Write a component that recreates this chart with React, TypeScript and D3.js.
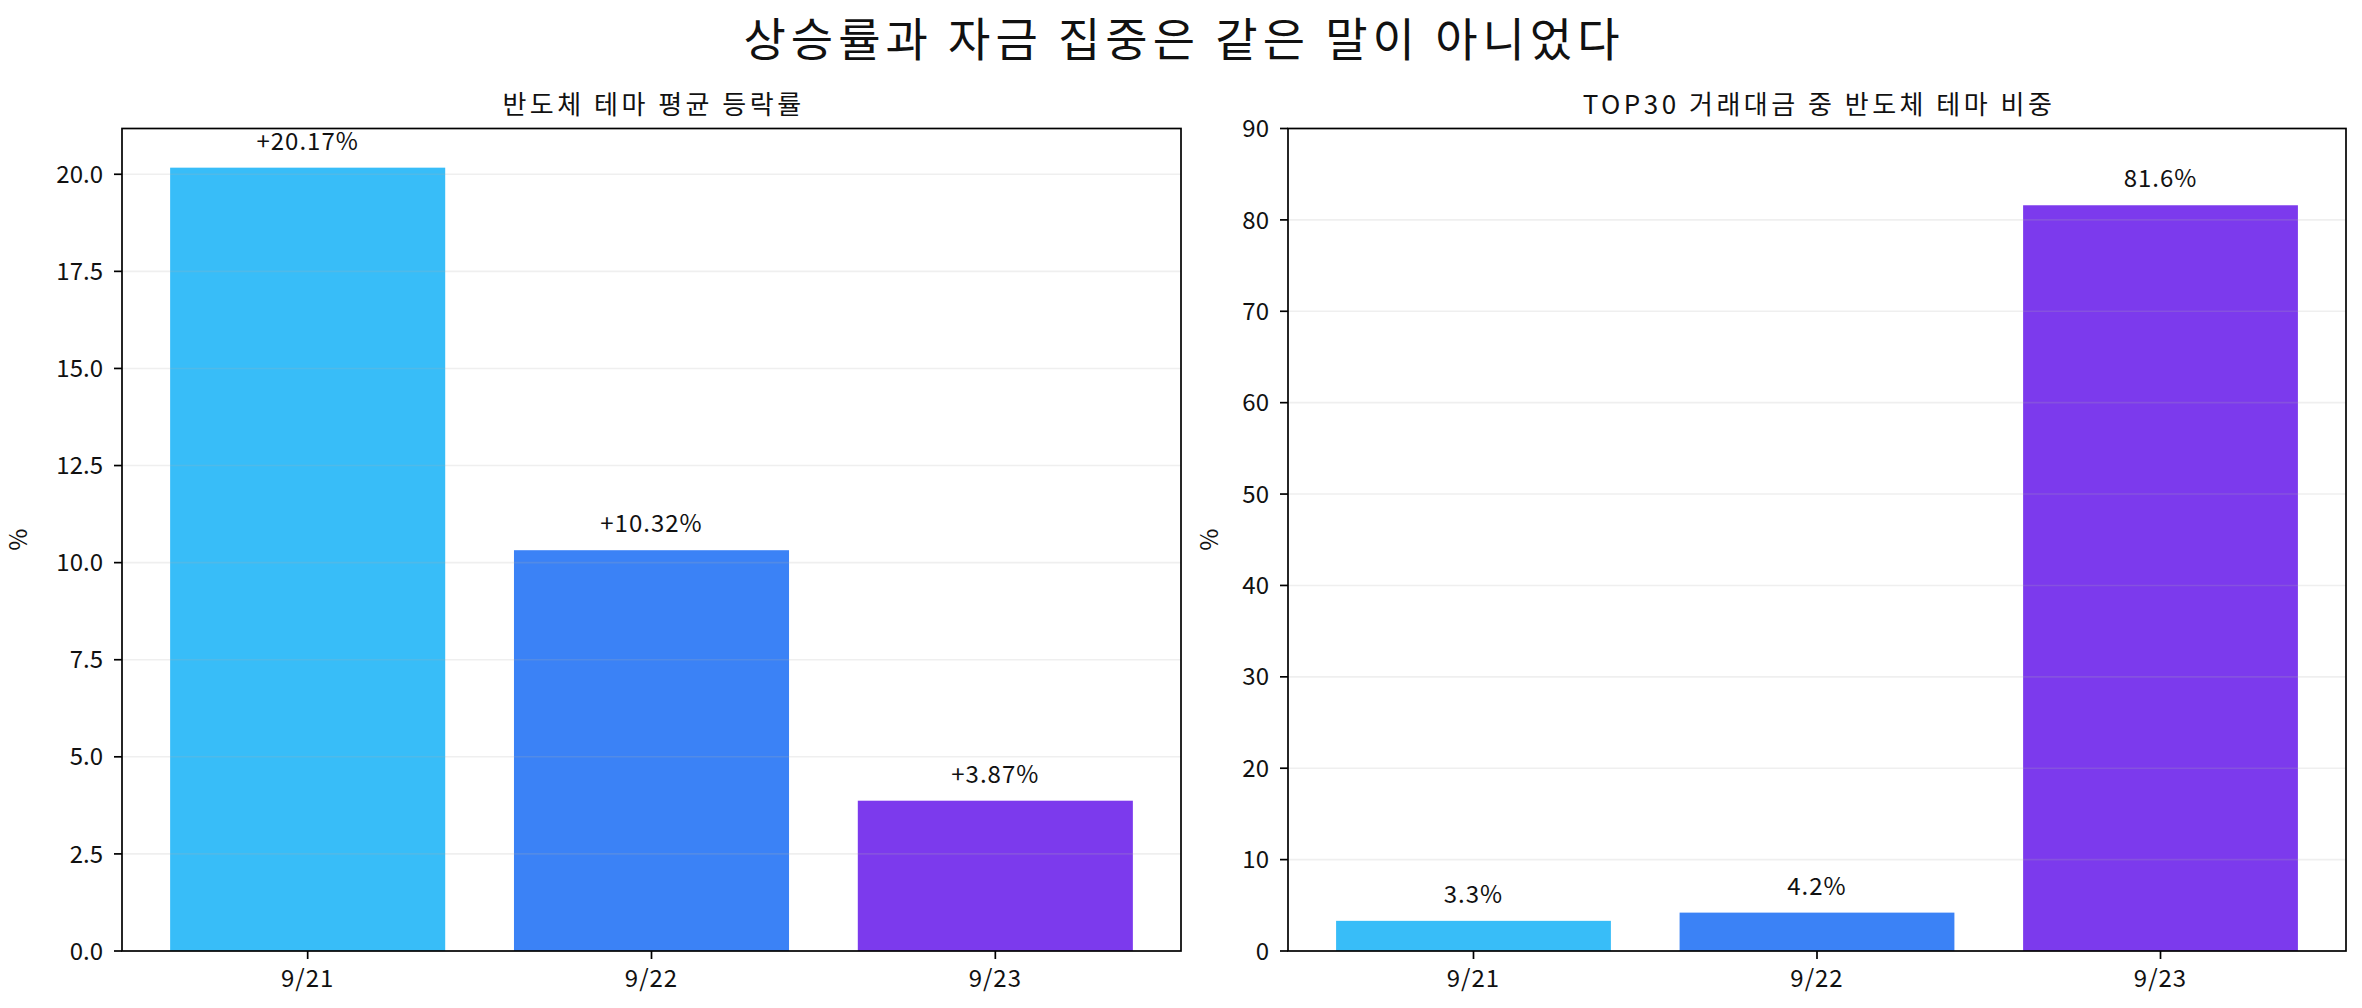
import React, { useEffect, useRef } from 'react';
import * as d3 from 'd3';

const dates = ['9/21', '9/22', '9/23'];
const avgChange = [20.17, 10.32, 3.87];
const top30Share = [3.3, 4.2, 81.6];
const barColors = ['#38bdf8', '#3b82f6', '#7c3aed'];
const leftTicks = [0, 2.5, 5, 7.5, 10, 12.5, 15, 17.5, 20];
const rightTicks = [0, 10, 20, 30, 40, 50, 60, 70, 80, 90];

const FONT = '"Noto Sans CJK KR", "Noto Sans", sans-serif';
const W = 2362;
const H = 1008;

interface PanelSpec {
  left: number;
  right: number;
  title: string;
  values: number[];
  ticks: number[];
  yMax: number;
  ylabelGap: number;
  tickFormat: (v: number) => string;
  labelFormat: (v: number) => string;
}

const App: React.FC = () => {
  const svgRef = useRef<SVGSVGElement>(null);

  useEffect(() => {
    if (!svgRef.current) return;
    const svg = d3.select(svgRef.current);
    svg.selectAll('*').remove();

    const top = 128.5;
    const bottom = 951;

    svg.append('rect').attr('width', W).attr('height', H).attr('fill', '#fff');

    // Figure title
    svg.append('text')
      .attr('x', W / 2 + 3)
      .attr('y', 56)
      .attr('text-anchor', 'middle')
      .attr('font-family', FONT)
      .attr('font-size', 46)
      .attr('letter-spacing', 5)
      .attr('fill', '#111')
      .text('상승률과 자금 집중은 같은 말이 아니었다');

    const panels: PanelSpec[] = [
      {
        left: 122,
        right: 1181,
        title: '반도체 테마 평균 등락률',
        values: avgChange,
        ticks: leftTicks,
        yMax: d3.max(avgChange)! * 1.05,
        ylabelGap: 95,
        tickFormat: v => v.toFixed(1),
        labelFormat: v => `+${v.toFixed(2)}%`,
      },
      {
        left: 1288,
        right: 2346,
        title: 'TOP30 거래대금 중 반도체 테마 비중',
        values: top30Share,
        ticks: rightTicks,
        yMax: 90,
        ylabelGap: 70,
        tickFormat: v => String(v),
        labelFormat: v => `${v.toFixed(1)}%`,
      },
    ];

    panels.forEach(p => {
      const x = d3.scaleBand<string>()
        .domain(dates)
        .range([p.left, p.right])
        .paddingInner(0.2)
        .paddingOuter(0.14);

      const y = d3.scaleLinear()
        .domain([0, p.yMax])
        .range([bottom, top]);

      const g = svg.append('g').attr('font-family', FONT);

      // Bars
      g.selectAll('rect.bar')
        .data(p.values)
        .enter()
        .append('rect')
        .attr('class', 'bar')
        .attr('x', (_, i) => x(dates[i])!)
        .attr('y', d => y(d))
        .attr('width', x.bandwidth())
        .attr('height', d => bottom - y(d))
        .attr('fill', (_, i) => barColors[i]);

      // Grid lines (drawn over the bars)
      g.selectAll('line.grid')
        .data(p.ticks)
        .enter()
        .append('line')
        .attr('class', 'grid')
        .attr('x1', p.left)
        .attr('x2', p.right)
        .attr('y1', d => y(d))
        .attr('y2', d => y(d))
        .attr('stroke', '#b0b0b0')
        .attr('stroke-opacity', 0.2)
        .attr('stroke-width', 1.6);

      // Value labels
      g.selectAll('text.value')
        .data(p.values)
        .enter()
        .append('text')
        .attr('class', 'value')
        .attr('x', (_, i) => x(dates[i])! + x.bandwidth() / 2)
        .attr('y', d => y(d) - 18)
        .attr('text-anchor', 'middle')
        .attr('font-size', 24)
        .attr('letter-spacing', 1)
        .attr('fill', '#111')
        .text(d => p.labelFormat(d));

      // Y axis ticks
      const yAxis = g.append('g');
      p.ticks.forEach(t => {
        yAxis.append('line')
          .attr('x1', p.left - 8)
          .attr('x2', p.left)
          .attr('y1', y(t))
          .attr('y2', y(t))
          .attr('stroke', '#000')
          .attr('stroke-width', 1.7);
        yAxis.append('text')
          .attr('x', p.left - 19)
          .attr('y', y(t))
          .attr('dy', '0.36em')
          .attr('text-anchor', 'end')
          .attr('font-size', 24)
          .attr('fill', '#111')
          .text(p.tickFormat(t));
      });

      // X axis ticks
      dates.forEach(d => {
        const cx = x(d)! + x.bandwidth() / 2;
        g.append('line')
          .attr('x1', cx)
          .attr('x2', cx)
          .attr('y1', bottom)
          .attr('y2', bottom + 8)
          .attr('stroke', '#000')
          .attr('stroke-width', 1.7);
        g.append('text')
          .attr('x', cx)
          .attr('y', bottom + 36)
          .attr('text-anchor', 'middle')
          .attr('font-size', 24)
          .attr('letter-spacing', 1)
          .attr('fill', '#111')
          .text(d);
      });

      // Frame
      g.append('rect')
        .attr('x', p.left)
        .attr('y', top)
        .attr('width', p.right - p.left)
        .attr('height', bottom - top)
        .attr('fill', 'none')
        .attr('stroke', '#000')
        .attr('stroke-width', 1.7);

      // Axes title
      g.append('text')
        .attr('x', (p.left + p.right) / 2 + 2)
        .attr('y', 114)
        .attr('text-anchor', 'middle')
        .attr('font-size', 26)
        .attr('letter-spacing', 3.5)
        .attr('fill', '#111')
        .text(p.title);

      // Y label
      g.append('text')
        .attr('transform', `translate(${p.left - p.ylabelGap},${(top + bottom) / 2}) rotate(-90)`)
        .attr('text-anchor', 'middle')
        .attr('font-size', 24)
        .attr('fill', '#111')
        .text('%');
    });
  }, []);

  return (
    <svg
      ref={svgRef}
      width={W}
      height={H}
      style={{ position: 'absolute', left: 0, top: 0, display: 'block' }}
    />
  );
};

export default App;
